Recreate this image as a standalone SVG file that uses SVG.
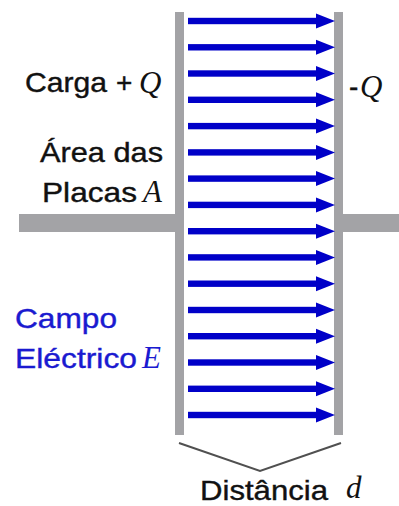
<svg xmlns="http://www.w3.org/2000/svg" width="399" height="506" viewBox="0 0 399 506">
<style>
.plate{fill:#a3a3a6}
.lbl{font-family:"Liberation Sans",Arial,sans-serif;font-size:28px;fill:#111;stroke:#111;stroke-width:0.4}
.blue{fill:#1a1ad0;stroke:#1a1ad0}
.var{font-family:"Liberation Serif","Times New Roman",serif;font-style:italic;font-size:31px;fill:#111}
.varblue{fill:#1a1ad0}
.shaft{fill:#0000c8}
</style>
<defs>
<g id="arrow">
<rect x="188" y="-3.2" width="131" height="6.4" class="shaft"/>
<polygon points="316,-7.5 335,0 316,7.5" class="shaft"/>
</g>
</defs>
<rect width="399" height="506" fill="#fff"/>
<g id="wire-left"><rect x="19" y="214" width="157" height="18" class="plate"/></g>
<g id="wire-right"><rect x="342" y="214" width="57" height="18" class="plate"/></g>
<g id="plate-left"><rect x="175" y="12" width="9" height="423" class="plate"/></g>
<g id="plate-right"><rect x="334" y="12" width="9" height="423" class="plate"/></g>
<g id="field">
<use href="#arrow" y="21"/>
<use href="#arrow" y="47.3"/>
<use href="#arrow" y="73.5"/>
<use href="#arrow" y="99.8"/>
<use href="#arrow" y="126.1"/>
<use href="#arrow" y="152.4"/>
<use href="#arrow" y="178.6"/>
<use href="#arrow" y="204.9"/>
<use href="#arrow" y="231.2"/>
<use href="#arrow" y="257.4"/>
<use href="#arrow" y="283.7"/>
<use href="#arrow" y="310"/>
<use href="#arrow" y="336.2"/>
<use href="#arrow" y="362.5"/>
<use href="#arrow" y="388.8"/>
<use href="#arrow" y="415"/>
</g>
<g id="bracket"><polyline points="179,443 260,471 341,443" fill="none" stroke="#505050" stroke-width="2"/></g>
<g id="label-charge">
<text x="25" y="92" class="lbl" textLength="82" lengthAdjust="spacingAndGlyphs">Carga</text>
<text x="116" y="92" class="lbl" font-size="30">+</text>
<text x="139" y="93" class="var">Q</text>
</g>
<g id="label-neg">
<text x="349" y="96" class="lbl">-</text>
<text x="360" y="97" class="var">Q</text>
</g>
<g id="label-area">
<text x="40" y="162" class="lbl" textLength="123" lengthAdjust="spacingAndGlyphs">Área das</text>
<text x="42" y="202" class="lbl" textLength="95" lengthAdjust="spacingAndGlyphs">Placas</text>
<text x="143" y="202" class="var">A</text>
</g>
<g id="label-field">
<text x="15" y="328" class="lbl blue" textLength="102" lengthAdjust="spacingAndGlyphs">Campo</text>
<text x="15" y="368" class="lbl blue" textLength="122" lengthAdjust="spacingAndGlyphs">Eléctrico</text>
<text x="142" y="368" class="var varblue">E</text>
</g>
<g id="label-distance">
<text x="200" y="500" class="lbl" textLength="128" lengthAdjust="spacingAndGlyphs">Distância</text>
<text x="346" y="498" class="var">d</text>
</g>
</svg>
